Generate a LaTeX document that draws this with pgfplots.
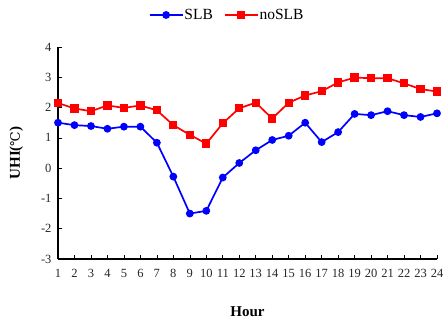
\documentclass[border=0pt]{standalone}
\usepackage{pgfplots}
\pgfplotsset{compat=1.18}
\usepackage{fontspec}
\setmainfont{Liberation Serif}
\newfontfamily\dejavu{DejaVu Serif}
\begin{document}
\begin{tikzpicture}
\begin{axis}[
  at={(0,0)}, anchor=south west,
  scale only axis, width=379bp, height=212bp,
  xmin=1, xmax=24, ymin=-3, ymax=4,
  xtick={1,...,24}, ytick={-3,-2,-1,0,1,2,3,4},
  axis x line*=bottom, axis y line*=left,
  axis line style={line width=1.2bp},
  tick align=inside, major tick length=4bp,
  tick style={black, line width=0.6bp},
  clip=false,
  /pgf/number format/assume math mode=true,
  ticklabel style={font=\fontsize{12.5bp}{14bp}\selectfont, text=black!85},
  xticklabel style={yshift=-7bp},
  yticklabel style={xshift=-3bp},
  xlabel={\textbf{Hour}},
  ylabel={\textbf{UHI(}{\dejavu\fontsize{13bp}{15bp}\selectfont ℃}\textbf{)}},
  label style={font=\fontsize{15bp}{17bp}\selectfont},
  xlabel style={at={(axis description cs:0.5,-0.25)}, anchor=center},
  ylabel style={at={(axis description cs:-0.11,0.5)}, anchor=center},
  legend style={at={(axis description cs:0.445,1.151)}, anchor=center, draw=none,
    font=\fontsize{15.5bp}{17bp}\selectfont, inner sep=0pt,
    nodes={inner sep=1bp}},
  legend columns=2,
  /tikz/every even column/.append style={column sep=10bp},
  legend image code/.code={\draw[mark repeat=2,mark phase=2] plot coordinates {(0bp,0bp) (16.5bp,0bp) (33bp,0bp)};},
]
\addplot[blue, line width=1.7bp, mark=*, mark size=3bp] coordinates {
(1,1.50)(2,1.42)(3,1.39)(4,1.30)(5,1.37)(6,1.37)(7,0.84)(8,-0.28)
(9,-1.50)(10,-1.41)(11,-0.31)(12,0.17)(13,0.59)(14,0.93)(15,1.07)(16,1.50)
(17,0.86)(18,1.19)(19,1.79)(20,1.75)(21,1.88)(22,1.75)(23,1.69)(24,1.81)};
\addlegendentry{SLB}
\addplot[red, line width=1.7bp, mark=square*, mark size=3.3bp] coordinates {
(1,2.15)(2,1.97)(3,1.88)(4,2.07)(5,1.99)(6,2.07)(7,1.91)(8,1.42)
(9,1.10)(10,0.81)(11,1.48)(12,1.98)(13,2.16)(14,1.64)(15,2.16)(16,2.40)
(17,2.54)(18,2.83)(19,2.99)(20,2.97)(21,2.97)(22,2.80)(23,2.61)(24,2.53)};
\addlegendentry{noSLB}
\end{axis}
\pgfresetboundingbox
\useasboundingbox (-58bp,-70bp) rectangle (387bp,259bp);
\end{tikzpicture}
\end{document}
